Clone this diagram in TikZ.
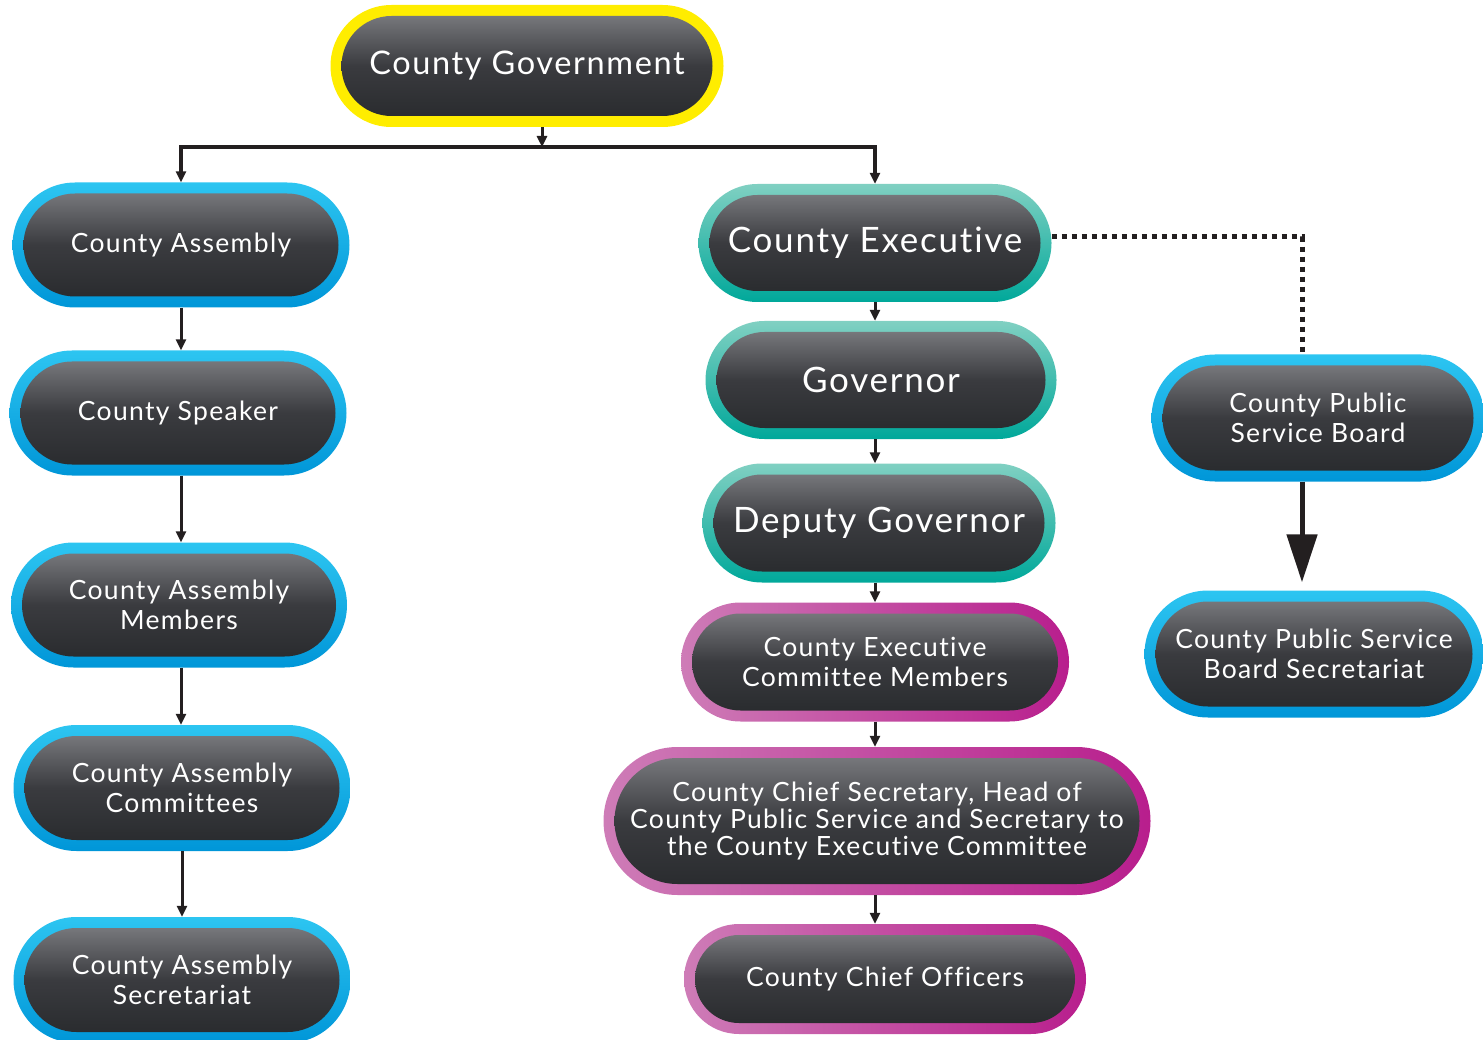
\documentclass[tikz,border=0pt]{standalone}
\usepackage{fontspec}
\setmainfont{Lato}[LetterSpace=5.0, Ligatures={NoCommon, NoRare}]
\usetikzlibrary{arrows.meta, shapes.misc, calc}

\definecolor{rimyellow}{RGB}{255,237,0}
\definecolor{blueT}{RGB}{45,197,241}
\definecolor{blueB}{RGB}{0,150,216}
\definecolor{tealT}{RGB}{128,208,194}
\definecolor{tealB}{RGB}{0,168,154}
\definecolor{magL}{RGB}{206,124,183}
\definecolor{magR}{RGB}{184,30,141}
\definecolor{coretop}{RGB}{118,119,123}
\definecolor{coremid}{RGB}{58,59,63}
\definecolor{corebot}{RGB}{42,44,47}
\definecolor{linkcol}{RGB}{35,31,32}

\newcommand{\toptxt}{\fontsize{32.5}{36}\selectfont}
\newcommand{\bigtxt}{\fontsize{35}{38}\selectfont}
\newcommand{\normtxt}{\fontsize{26.5}{30}\selectfont}

\tikzset{
  rim/.style={rounded rectangle, draw=none, inner sep=0pt},
  yellowrim/.style={rim, fill=rimyellow},
  bluerim/.style={rim, top color=blueT, bottom color=blueB},
  tealrim/.style={rim, top color=tealT, bottom color=tealB},
  magentarim/.style={rim, left color=magL, right color=magR},
  core/.style={rounded rectangle, inner sep=0pt, top color=coretop,
    bottom color=corebot, middle color=coremid, text=white, align=center},
  link/.style={draw=linkcol, line width=3pt, -{Triangle[length=11pt,width=10pt]}},
  buslink/.style={link, line width=4pt},
  biglink/.style={draw=linkcol, line width=5pt, -{Triangle[length=48pt,width=30pt]}},
  dotlink/.style={draw=linkcol, line width=5pt, dash pattern=on 5pt off 5pt}
}

% one pill: outer rim node, dark core with text on top
\newcommand{\orgpill}[7][\normtxt]{%
  \node[#6, minimum width=#4pt, minimum height=#5pt] (#2) at (#3) {};
  \node[core, font=#1, minimum width=#4pt-22pt, minimum height=#5pt-22pt] at (#2) {#7};
}

\begin{document}
\begin{tikzpicture}[x=1pt, y=-1pt]
    \useasboundingbox (0,0) rectangle (1483,1040);

    % top
    \orgpill[\toptxt]{gov}{527,66}{393}{122}{yellowrim}{County Government}

    % assembly side
    \orgpill{asm}{181,245}{337}{125}{bluerim}{County Assembly}
    \orgpill{spk}{178,413}{337}{125}{bluerim}{County Speaker}
    \orgpill{mem}{179,605}{336}{125}{bluerim}{County Assembly\\Members}
    \orgpill{com}{182,788}{337}{126}{bluerim}{County Assembly\\Committees}
    \orgpill{sec}{182,980}{337}{126}{bluerim}{County Assembly\\Secretariat}

    % executive side
    \orgpill[\bigtxt]{exe}{875,243}{353}{118}{tealrim}{County Executive}
    \orgpill[\bigtxt]{govr}{881,380}{351}{118}{tealrim}{Governor}
    \orgpill[\bigtxt]{dep}{879,523}{353}{119}{tealrim}{Deputy Governor}
    \orgpill{cecm}{875,662}{388}{119}{magentarim}{County Executive\\Committee Members}
    \orgpill{ccs}{877,821}{547}{148}{magentarim}{County Chief Secretary, Head of\\[-3pt]County Public Service and Secretary to\\[-3pt]the County Executive Committee}
    \orgpill{cco}{885,979}{402}{110}{magentarim}{County Chief Officers}

    % public service board
    \orgpill{psb}{1318,418}{333}{127}{bluerim}{County Public\\Service Board}
    \orgpill{psbs}{1314,654}{339}{127}{bluerim}{County Public Service\\Board Secretariat}

    \coordinate (bus) at (542,147);
    \coordinate (dotturn) at (1302,237);

    % connectors
    \draw[link] (gov.south -| bus) -- (bus);
    \draw[buslink] (bus) -| (asm.north);
    \draw[buslink] (bus) -| (exe.north);

    \draw[link] (asm.south) -- (asm.south |- spk.north);
    \draw[link] (spk.south -| asm.south) -- (asm.south |- mem.north);
    \draw[link] (mem.south -| asm.south) -- (asm.south |- com.north);
    \draw[link] (com.south) -- (com.south |- sec.north);

    \draw[link] (exe.south) -- (exe.south |- govr.north);
    \draw[link] (govr.south -| exe.south) -- (exe.south |- dep.north);
    \draw[link] (dep.south -| exe.south) -- (exe.south |- cecm.north);
    \draw[link] (cecm.south) -- (cecm.south |- ccs.north);
    \draw[link] (ccs.south -| cecm.south) -- (cecm.south |- cco.north);

    \draw[dotlink] (exe.east |- dotturn) -- (dotturn) -- (dotturn |- psb.north);
    \draw[biglink] (dotturn |- psb.south) -- ($(dotturn |- psbs.north)+(0,-8)$);
\end{tikzpicture}
\end{document}
